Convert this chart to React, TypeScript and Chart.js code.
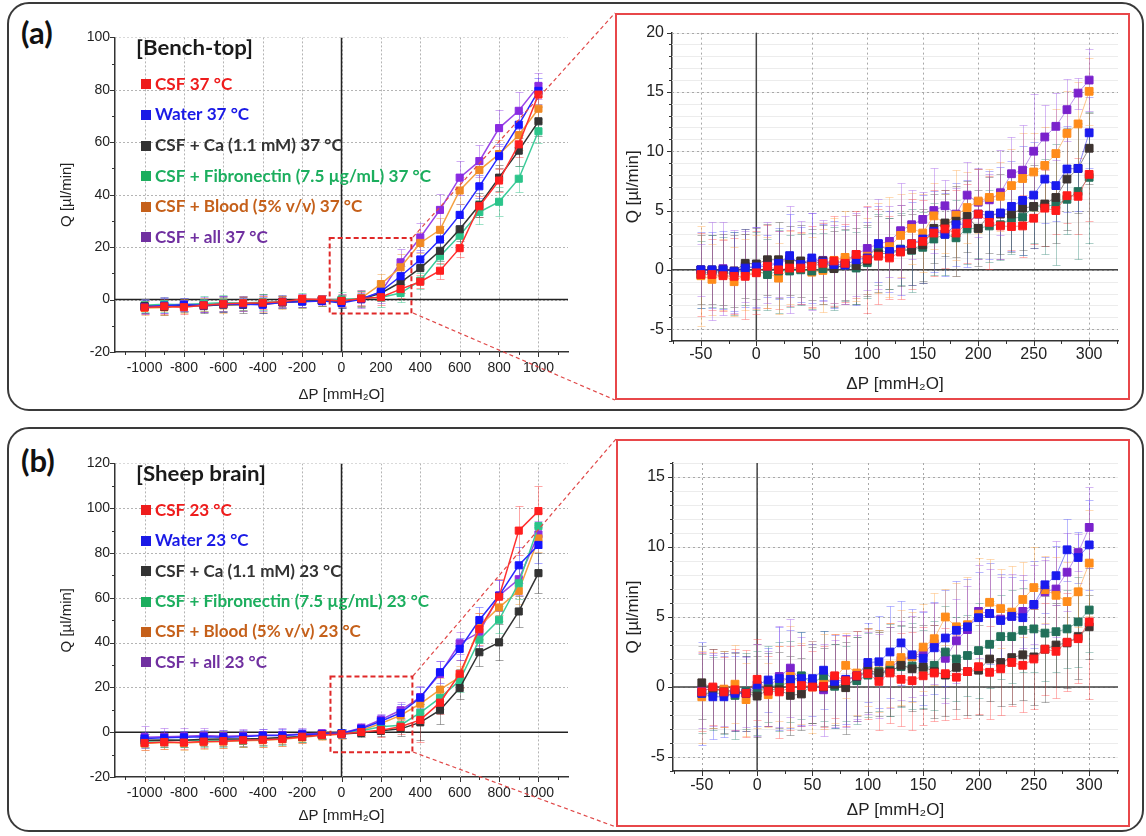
import React, { useEffect, useRef } from 'react';
import { Chart, registerables } from 'chart.js';
Chart.register(...registerables);

// ---------------- data ----------------
const xFull = [-1000, -900, -800, -700, -600, -500, -400, -300, -200, -100, 0, 100, 200, 300, 400, 500, 600, 700, 800, 900, 1000];
const xZoom = [-50, -40, -30, -20, -10, 0, 10, 20, 30, 40, 50, 60, 70, 80, 90, 100, 110, 120, 130, 140, 150, 160, 170, 180, 190, 200, 210, 220, 230, 240, 250, 260, 270, 280, 290, 300];

const fullXTicks = [-1000, -800, -600, -400, -200, 0, 200, 400, 600, 800, 1000];
const zoomXTicks = [-50, 0, 50, 100, 150, 200, 250, 300];
const benchFullYTicks = [-20, 0, 20, 40, 60, 80, 100];
const sheepFullYTicks = [-20, 0, 20, 40, 60, 80, 100, 120];
const benchZoomYTicks = [-5, 0, 5, 10, 15, 20];
const sheepZoomYTicks = [-5, 0, 5, 10, 15];

const benchNames = ['CSF 37 °C', 'Water 37 °C', 'CSF + Ca (1.1 mM) 37 °C', 'CSF + Fibronectin (7.5 µg/mL) 37 °C', 'CSF + Blood (5% v/v) 37 °C', 'CSF + all 37 °C'];
const sheepNames = ['CSF 23 °C', 'Water 23 °C', 'CSF + Ca (1.1 mM) 23 °C', 'CSF + Fibronectin (7.5 µg/mL) 23 °C', 'CSF + Blood (5% v/v) 23 °C', 'CSF + all 23 °C'];

// (a) bench-top, full range
const benchFullCSF = [-3.0, -2.6, -2.9, -2.2, -1.6, -1.4, -1.2, -0.8, 0.2, 0.0, -0.5, 0.4, 0.9, 4.0, 6.8, 11.0, 19.6, 35.6, 45.4, 59.2, 78.2];
const benchFullWater = [-2.8, -2.3, -2.0, -2.2, -1.8, -1.8, -2.0, -1.0, -0.8, -0.5, -1.3, 0.1, 3.0, 8.9, 15.3, 22.9, 32.3, 43.2, 54.7, 66.7, 79.6];
const benchFullCa = [-2.5, -2.8, -2.2, -2.5, -1.9, -2.0, -1.5, -1.0, -0.6, -0.4, -0.6, 0.2, 2.4, 6.6, 12.0, 18.6, 26.8, 36.1, 46.5, 56.8, 68.0];
const benchFullFib = [-2.2, -1.8, -2.0, -1.5, -1.2, -1.3, -1.0, -0.8, -0.4, -0.3, 0.0, 0.4, 0.8, 2.5, 7.2, 16.5, 24.4, 33.4, 37.3, 46.1, 64.2];
const benchFullBlood = [-3.2, -3.0, -2.5, -2.0, -2.2, -1.6, -1.8, -1.2, -0.6, -0.3, -0.5, 0.6, 5.9, 12.3, 21.6, 26.6, 41.6, 49.4, 55.5, 62.7, 72.8];
const benchFullAll = [-2.6, -2.2, -1.8, -1.9, -1.5, -1.6, -1.4, -0.9, -0.5, -0.2, -0.4, 0.3, 2.8, 14.2, 23.7, 34.2, 46.5, 52.8, 65.4, 72.0, 81.5];

const benchFullCSFErr = [2.5, 2.8, 2.5, 2.5, 2.8, 2.5, 2.5, 2.0, 2.0, 1.8, 2.0, 2.5, 3.0, 3.5, 2.5, 3.0, 3.5, 4.0, 4.5, 5.0, 4.5];
const benchFullWaterErr = [2.5, 3.0, 2.5, 2.5, 3.0, 2.5, 3.0, 2.0, 2.0, 1.8, 2.0, 2.5, 3.0, 4.0, 3.5, 4.0, 4.0, 4.5, 4.5, 5.0, 5.0];
const benchFullCaErr = [2.8, 3.2, 2.5, 2.5, 3.0, 3.0, 3.5, 2.2, 2.2, 2.0, 2.5, 3.0, 3.0, 4.0, 3.5, 4.0, 4.5, 4.5, 5.0, 6.0, 5.5];
const benchFullFibErr = [2.5, 2.8, 2.5, 2.8, 3.0, 2.8, 3.0, 2.5, 3.0, 2.0, 3.0, 3.0, 3.5, 3.5, 3.0, 3.0, 3.5, 4.5, 5.5, 5.0, 4.5];
const benchFullBloodErr = [2.5, 3.0, 2.8, 2.5, 2.8, 2.8, 3.0, 2.5, 2.5, 2.0, 2.5, 3.0, 4.0, 5.0, 4.0, 4.5, 5.0, 5.0, 5.5, 5.5, 5.0];
const benchFullAllErr = [2.8, 3.0, 2.5, 2.8, 2.8, 2.8, 3.0, 2.5, 2.5, 2.0, 2.5, 3.5, 4.0, 5.0, 5.5, 6.0, 6.5, 6.0, 7.0, 7.0, 5.0];

// (a) bench-top, zoom
const benchZoomCSF = [-0.4, -0.4, -0.5, -0.55, -0.55, -0.25, 0.3, 0.0, 0.15, 0.15, 0.3, 0.55, 0.75, 0.55, 1.3, 0.9, 1.15, 1.0, 1.5, 2.2, 2.4, 3.1, 3.45, 3.1, 3.9, 4.7, 4.0, 3.7, 3.65, 3.7, 4.35, 5.2, 5.0, 6.25, 6.2, 8.05];
const benchZoomWater = [0.0, 0.0, 0.0, -0.15, 0.15, 0.25, 0.3, 0.55, 1.2, 0.45, 1.0, 0.65, 0.45, 0.4, 0.85, 1.0, 2.2, 1.55, 1.7, 2.2, 2.6, 3.25, 3.0, 3.8, 3.9, 4.7, 4.6, 4.8, 5.35, 5.85, 6.3, 7.65, 7.1, 8.5, 8.55, 11.55];
const benchZoomCa = [0.0, 0.0, 0.0, -0.1, 0.55, 0.5, 0.85, 0.85, 0.8, 0.75, 0.45, 0.75, 0.1, 0.45, 0.35, 0.8, 1.35, 1.4, 1.6, 1.7, 2.1, 3.5, 3.95, 4.1, 4.5, 3.5, 4.6, 4.7, 4.7, 5.2, 5.35, 5.55, 6.1, 7.65, 8.55, 10.25];
const benchZoomFib = [-0.4, -0.1, -0.25, -0.3, 0.0, -0.1, -0.4, -0.1, -0.1, 0.0, -0.1, 0.1, 0.15, 0.4, 0.15, 0.6, 1.7, 1.4, 1.75, 1.65, 1.9, 2.6, 3.0, 2.7, 3.45, 3.5, 3.7, 3.8, 4.35, 4.45, 5.3, 5.35, 5.5, 5.95, 6.6, 7.8];
const benchZoomBlood = [-0.5, -0.8, -0.4, -1.0, -0.4, -0.2, -0.25, -0.7, 0.2, 0.1, -0.2, -0.05, 0.8, 1.05, 1.0, 1.15, 1.85, 1.95, 2.9, 3.5, 3.1, 4.55, 3.9, 4.6, 5.25, 5.8, 6.1, 6.2, 7.1, 7.7, 8.25, 8.8, 9.8, 11.5, 12.3, 15.05];
const benchZoomAll = [0.0, -0.1, 0.1, -0.1, 0.3, 0.2, 0.6, 0.5, 0.9, 0.6, 0.7, 0.8, 0.5, 0.8, 1.3, 1.8, 2.2, 2.4, 3.3, 3.8, 4.25, 5.0, 5.4, 4.7, 6.3, 5.7, 5.9, 6.5, 8.1, 8.4, 10.0, 11.2, 12.1, 13.5, 14.9, 16.0];

const benchZoomCSFErr = [3.5, 3.0, 3.0, 3.2, 3.6, 3.5, 3.5, 3.3, 3.2, 3.0, 3.4, 3.4, 3.8, 3.3, 3.7, 4.5, 4.0, 3.5, 4.0, 3.8, 3.5, 3.6, 3.3, 3.6, 3.3, 3.8, 3.9, 2.8, 2.0, 2.6, 2.2, 3.2, 2.0, 2.3, 3.2, 3.9];
const benchZoomWaterErr = [3.2, 3.2, 3.3, 3.3, 3.3, 3.4, 2.6, 3.0, 3.5, 3.2, 3.8, 3.2, 3.7, 3.3, 3.8, 3.0, 3.2, 3.4, 3.8, 3.5, 3.7, 3.4, 3.5, 3.5, 3.7, 3.8, 3.7, 3.9, 3.8, 4.6, 4.5, 3.7, 3.0, 3.6, 3.6, 3.0];
const benchZoomCaErr = [2.9, 2.9, 3.0, 3.0, 2.9, 3.0, 3.0, 3.2, 2.9, 3.0, 3.0, 3.0, 3.2, 3.0, 3.2, 3.0, 3.2, 3.0, 3.0, 3.0, 3.0, 2.9, 2.8, 3.0, 3.0, 3.2, 3.2, 3.4, 3.2, 3.5, 3.5, 3.5, 3.8, 4.3, 3.8, 3.0];
const benchZoomFibErr = [2.8, 3.0, 3.0, 3.5, 3.0, 3.3, 3.0, 3.5, 3.0, 3.0, 3.2, 3.0, 3.5, 3.0, 3.0, 3.0, 3.0, 3.0, 3.0, 3.5, 3.0, 3.0, 3.4, 3.2, 3.0, 2.5, 3.0, 3.0, 3.0, 3.2, 3.0, 4.0, 5.1, 2.9, 5.7, 5.5];
const benchZoomBloodErr = [4.2, 3.0, 3.0, 2.9, 3.0, 3.1, 3.0, 3.0, 3.1, 3.0, 3.0, 3.5, 3.6, 3.9, 3.6, 3.2, 3.8, 4.2, 3.5, 3.0, 3.3, 2.8, 2.5, 3.8, 3.0, 2.7, 2.4, 2.9, 3.1, 3.8, 3.3, 3.2, 3.8, 3.6, 3.5, 2.8];
const benchZoomAllErr = [2.2, 4.1, 3.9, 3.5, 3.0, 3.4, 3.4, 2.8, 4.5, 3.5, 4.1, 3.4, 3.3, 3.7, 3.5, 3.5, 3.8, 3.0, 4.0, 2.9, 2.3, 3.6, 2.2, 2.2, 2.8, 2.9, 2.2, 3.6, 3.1, 3.8, 4.8, 2.7, 2.8, 2.6, 1.3, 2.6];

// (b) sheep brain, full range
const sheepFullCSF = [-4.8, -4.4, -4.6, -4.2, -4.0, -3.6, -3.4, -3.0, -2.0, -1.2, -0.8, 0.1, 0.9, 2.4, 5.5, 13.2, 26.1, 46.0, 60.5, 90.0, 98.7];
const sheepFullWater = [-2.8, -2.5, -2.3, -2.0, -2.2, -2.0, -1.5, -1.5, -1.0, -0.8, -0.5, 1.5, 4.9, 8.6, 15.4, 26.8, 37.2, 50.1, 61.0, 74.5, 83.6];
const sheepFullCa = [-3.6, -3.5, -3.6, -3.2, -3.0, -3.0, -2.8, -2.4, -2.0, -1.0, -0.8, -0.3, 0.6, 1.5, 4.4, 9.8, 19.7, 35.7, 40.1, 53.9, 71.0];
const sheepFullFib = [-4.0, -3.8, -3.5, -3.8, -3.5, -3.8, -3.0, -2.6, -1.8, -1.0, -0.5, 0.6, 2.4, 3.1, 8.7, 15.3, 23.1, 41.3, 50.2, 66.5, 92.0];
const sheepFullBlood = [-5.0, -4.6, -4.8, -4.4, -4.2, -3.8, -3.6, -3.2, -2.4, -1.4, -0.9, 0.9, 3.9, 7.5, 12.7, 19.0, 24.6, 47.3, 55.7, 63.1, 86.5];
const sheepFullAll = [-2.2, -2.0, -1.8, -1.5, -1.8, -1.6, -1.4, -1.2, -0.8, -0.5, -0.5, 1.9, 5.6, 9.8, 15.7, 26.0, 39.7, 44.6, 61.0, 68.3, 88.3];

const sheepFullCSFErr = [3, 3, 3, 3, 3, 3, 3, 3, 3, 2, 2, 2, 3, 3, 10, 5, 6, 7, 8, 11, 11];
const sheepFullWaterErr = [3, 3, 3, 3, 3, 3, 3, 3, 2.5, 2, 2, 2, 3, 4, 5, 5, 5, 6, 7, 8, 8];
const sheepFullCaErr = [3, 3, 3, 3, 3, 3, 3, 3, 2.5, 2, 2, 2, 2.5, 3, 8, 6, 5, 6, 8, 7, 9];
const sheepFullFibErr = [3, 3, 3, 3, 3, 3, 3, 3, 2.5, 2, 2, 2, 2.5, 3, 4, 5, 5, 6, 6, 7, 6];
const sheepFullBloodErr = [3, 3, 3, 3, 3, 3, 3, 3, 2.5, 2, 2, 2, 3, 4, 4, 5, 5, 6, 6, 6, 6];
const sheepFullAllErr = [5, 4, 3.5, 3.5, 3, 3, 3, 3, 2.5, 2, 2, 2, 2.5, 3.5, 5, 6, 5, 6, 7, 7, 6];

// (b) sheep brain, zoom
const sheepZoomCSF = [-0.35, 0.0, -0.35, -0.2, -0.45, 0.55, -0.3, -0.35, -0.05, 0.1, 0.0, 0.05, 0.8, 0.45, 0.8, 0.95, 0.4, 1.0, 0.55, 0.45, 0.8, 1.0, 0.95, 0.7, 1.1, 1.45, 1.05, 1.3, 1.75, 1.55, 2.0, 2.7, 2.55, 3.2, 3.45, 4.65];
const sheepZoomWater = [-0.45, -0.7, -0.7, -0.45, -0.45, 0.15, 0.5, 0.6, 0.55, 0.6, 0.6, 1.2, 0.4, 0.55, 0.8, 1.75, 1.8, 2.5, 3.15, 2.3, 2.05, 2.8, 3.5, 4.05, 4.3, 4.95, 5.25, 4.75, 5.05, 4.95, 5.9, 7.3, 7.95, 9.8, 9.25, 10.15];
const sheepZoomCa = [0.3, -0.1, -0.35, -0.35, -0.45, -0.65, -0.2, -0.2, -0.6, -0.5, 0.15, 0.0, 0.2, -0.05, 0.75, 1.2, 1.0, 1.1, 1.55, 1.3, 1.45, 1.1, 0.85, 1.4, 1.1, 1.2, 2.0, 1.75, 2.1, 2.3, 2.15, 2.7, 3.0, 3.15, 3.6, 4.3];
const sheepZoomFib = [-0.45, -0.45, -0.45, -0.6, -0.3, -0.45, 0.2, 0.05, 0.4, 0.8, 0.25, 0.8, 0.05, 0.25, 0.45, 0.85, 1.1, 1.2, 1.45, 1.5, 1.3, 1.55, 2.5, 2.0, 2.25, 2.6, 3.05, 3.6, 3.6, 4.05, 4.15, 3.85, 3.95, 4.15, 4.65, 5.5];
const sheepZoomBlood = [-0.7, -0.2, -0.15, 0.2, -0.9, 0.05, -0.55, 0.25, 0.75, 0.25, 0.0, 0.4, 0.6, 1.55, 1.0, 1.45, 1.15, 1.55, 2.1, 2.15, 2.85, 3.45, 5.0, 4.3, 4.45, 5.2, 6.05, 5.6, 5.35, 6.25, 7.1, 6.95, 6.55, 6.1, 6.8, 8.85];
const sheepZoomAll = [-0.2, -0.15, -0.2, -0.3, -0.35, -0.2, -0.1, 0.75, 1.35, 0.4, 0.2, -0.2, 0.25, 0.45, 0.75, 1.0, 0.8, 1.4, 1.9, 2.2, 2.45, 3.1, 2.05, 3.3, 4.1, 5.4, 5.25, 4.85, 5.05, 5.4, 5.9, 6.8, 7.0, 8.2, 9.6, 11.4];

const sheepZoomCSFErr = [2.8, 2.7, 2.5, 2.9, 3.1, 2.9, 2.5, 3.3, 3.0, 2.9, 2.6, 2.9, 3.0, 3.2, 3.2, 3.2, 3.5, 3.6, 3.3, 3.5, 3.5, 3.4, 3.3, 3.0, 3.3, 3.4, 3.3, 3.3, 3.1, 3.3, 3.6, 3.3, 3.3, 3.5, 3.2, 5.5];
const sheepZoomWaterErr = [3.7, 3.0, 2.9, 2.7, 2.7, 2.9, 2.3, 3.7, 3.5, 3.3, 2.7, 2.8, 3.3, 3.2, 3.2, 2.8, 3.3, 3.3, 3.0, 3.3, 3.3, 3.3, 3.4, 3.5, 3.4, 3.3, 3.6, 3.3, 2.8, 2.7, 3.1, 2.0, 2.1, 2.2, 1.8, 3.2];
const sheepZoomCaErr = [2.6, 2.8, 2.9, 2.8, 2.7, 2.9, 2.6, 2.7, 2.8, 2.6, 2.7, 2.8, 2.9, 3.3, 2.8, 3.0, 3.1, 3.2, 2.9, 3.0, 3.0, 3.3, 2.9, 3.0, 3.1, 3.2, 3.0, 3.1, 3.3, 3.2, 3.4, 3.8, 3.0, 3.2, 3.0, 2.3];
const sheepZoomFibErr = [2.8, 2.6, 2.9, 3.1, 2.7, 3.0, 2.7, 3.2, 2.9, 3.1, 2.8, 3.2, 3.0, 2.7, 3.1, 3.0, 2.8, 3.3, 2.9, 3.1, 2.8, 3.2, 3.3, 3.0, 2.9, 3.4, 3.1, 3.0, 3.3, 3.0, 3.1, 3.4, 2.9, 2.8, 3.2, 3.0];
const sheepZoomBloodErr = [3.3, 2.7, 2.7, 2.8, 2.6, 3.0, 2.3, 2.7, 3.6, 2.9, 3.3, 3.4, 3.2, 2.3, 3.0, 2.8, 2.9, 3.0, 3.4, 3.2, 3.1, 3.3, 2.0, 3.1, 3.4, 4.0, 3.1, 2.8, 3.3, 2.7, 2.9, 2.4, 2.7, 2.8, 2.5, 3.8];
const sheepZoomAllErr = [2.7, 2.6, 2.6, 2.8, 2.5, 3.3, 2.7, 3.6, 3.5, 3.2, 2.9, 3.3, 3.1, 3.3, 3.0, 2.9, 3.0, 2.9, 2.8, 2.9, 3.0, 2.9, 3.2, 3.0, 3.1, 3.3, 3.2, 3.0, 3.0, 2.6, 2.8, 2.3, 3.4, 2.8, 1.3, 2.9];

// zoomed regions marked in the full-range plots (data units)
const benchZoomRegionX = [-60, 355];
const benchZoomRegionY = [-5.3, 23.5];
const sheepZoomRegionX = [-56, 360];
const sheepZoomRegionY = [-8.9, 24.9];

// ---------------- styles ----------------
const fullMarkColors = ['#ff1f1f', '#1414ff', '#333333', '#2bc48a', '#f08a24', '#8a2be2'];
const fullLineColors = ['#ff3030', '#2a2aff', '#333333', '#3ccc9a', '#f5a040', '#9a45e8'];
const fullErrColors = ['rgba(255,60,60,0.45)', 'rgba(60,60,255,0.45)', 'rgba(60,60,60,0.45)', 'rgba(40,190,130,0.45)', 'rgba(240,150,50,0.45)', 'rgba(150,70,230,0.45)'];
const zoomMarkColors = ['#ff1a1a', '#1a1aee', '#3d3330', '#22705a', '#ff8c1a', '#7a22cc'];
const zoomLineColors = ['rgba(255,40,40,0.55)', 'rgba(40,40,240,0.55)', 'rgba(60,50,50,0.55)', 'rgba(40,130,110,0.55)', 'rgba(255,150,40,0.55)', 'rgba(140,60,220,0.55)'];
const zoomErrColors = ['rgba(255,60,60,0.38)', 'rgba(70,70,255,0.38)', 'rgba(60,60,60,0.38)', 'rgba(40,130,110,0.38)', 'rgba(255,160,60,0.38)', 'rgba(150,70,230,0.38)'];
const legendColors = ['#ee1c1c', '#1a1ae6', '#333333', '#1cae5e', '#c5601a', '#7030a0'];

const TICK_FAMILY = "'Liberation Sans', Arial, sans-serif";

function makeDecor(s: any) {
  return {
    id: 'decor',
    beforeDatasetsDraw(chart: any) {
      const { ctx, chartArea: ca } = chart;
      const xs = chart.scales.x, ys = chart.scales.y;
      const px = (v: number) => Math.round(xs.getPixelForValue(v)) + 0.5;
      const py = (v: number) => Math.round(ys.getPixelForValue(v)) + 0.5;
      ctx.save();
      ctx.beginPath();
      ctx.rect(ca.left, ca.top, ca.right - ca.left, ca.bottom - ca.top);
      ctx.clip();
      ctx.lineWidth = 1;
      if (s.minorGridY) {
        ctx.strokeStyle = s.minorGridColor;
        ctx.setLineDash([]);
        ctx.beginPath();
        for (let v = Math.ceil(ys.min / s.minorGridY) * s.minorGridY; v <= ys.max + 1e-9; v += s.minorGridY) {
          const y = py(v);
          ctx.moveTo(ca.left, y); ctx.lineTo(ca.right, y);
        }
        ctx.stroke();
      }
      ctx.strokeStyle = s.gridColor;
      ctx.setLineDash(s.gridDash);
      ctx.beginPath();
      xs.ticks.forEach((t: any) => { const x = px(t.value); ctx.moveTo(x, ca.top); ctx.lineTo(x, ca.bottom); });
      ys.ticks.forEach((t: any) => { const y = py(t.value); ctx.moveTo(ca.left, y); ctx.lineTo(ca.right, y); });
      ctx.stroke();
      ctx.setLineDash([]);
      ctx.strokeStyle = s.zeroColor;
      ctx.lineWidth = s.zeroWidth;
      ctx.beginPath();
      const x0 = xs.getPixelForValue(0), y0 = ys.getPixelForValue(0);
      ctx.moveTo(x0, ca.top); ctx.lineTo(x0, ca.bottom);
      ctx.moveTo(ca.left, y0); ctx.lineTo(ca.right, y0);
      ctx.stroke();
      // error bars
      ctx.lineWidth = 1;
      chart.data.datasets.forEach((ds: any) => {
        ctx.strokeStyle = ds.errColor;
        ctx.beginPath();
        ds.data.forEach((p: any, i: number) => {
          const e = ds.errors[i];
          const x = px(p.x);
          const yt = Math.round(ys.getPixelForValue(p.y + e)) + 0.5;
          const yb = Math.round(ys.getPixelForValue(p.y - e)) + 0.5;
          ctx.moveTo(x, yt); ctx.lineTo(x, yb);
          ctx.moveTo(x - s.cap, yt); ctx.lineTo(x + s.cap, yt);
          ctx.moveTo(x - s.cap, yb); ctx.lineTo(x + s.cap, yb);
        });
        ctx.stroke();
      });
      ctx.restore();
    },
    afterDatasetsDraw(chart: any) {
      const { ctx, chartArea: ca } = chart;
      const xs = chart.scales.x, ys = chart.scales.y;
      if (s.zoomRegion) {
        const [xa, xb] = s.zoomRegion.x, [ya, yb] = s.zoomRegion.y;
        const l = xs.getPixelForValue(xa), r = xs.getPixelForValue(xb);
        const t = ys.getPixelForValue(yb), b = ys.getPixelForValue(ya);
        ctx.save();
        ctx.strokeStyle = '#e02828';
        ctx.lineWidth = 2;
        ctx.setLineDash([5, 3]);
        ctx.strokeRect(l, t, r - l, b - t);
        ctx.restore();
      }
      if (s.legend) {
        const L = s.legend;
        ctx.save();
        ctx.textBaseline = 'middle';
        ctx.textAlign = 'left';
        ctx.font = L.titleFont;
        const tw = ctx.measureText(L.title).width;
        const tsx = L.titleTargetW / tw;
        ctx.fillStyle = '#1a1a1a';
        ctx.save();
        ctx.translate(ca.left + L.titleDx, ca.top + L.titleDy);
        ctx.scale(tsx, 1);
        ctx.fillText(L.title, 0, 0);
        ctx.restore();
        ctx.font = L.itemFont;
        const iw = ctx.measureText(L.names[L.refIndex]).width;
        const isx = L.itemTargetW / iw;
        L.names.forEach((txt: string, i: number) => {
          const cy = ca.top + L.itemDy + i * L.step;
          ctx.fillStyle = L.colors[i];
          ctx.fillRect(ca.left + L.markDx, Math.round(cy - L.mark / 2), L.mark, L.mark);
          ctx.save();
          ctx.translate(ca.left + L.textDx, cy);
          ctx.scale(isx, 1);
          ctx.fillText(txt, 0, 0);
          ctx.restore();
        });
        ctx.restore();
      }
    },
    afterDraw(chart: any) {
      const { ctx, chartArea: ca } = chart;
      const xs = chart.scales.x, ys = chart.scales.y;
      ctx.save();
      ctx.strokeStyle = '#333';
      ctx.lineWidth = 1;
      ctx.beginPath();
      const xMajors = xs.ticks.map((t: any) => t.value);
      const yMajors = ys.ticks.map((t: any) => t.value);
      for (let v = Math.ceil(xs.min / s.minorX) * s.minorX; v <= xs.max + 1e-9; v += s.minorX) {
        const major = xMajors.some((m: number) => Math.abs(m - v) < 1e-6);
        const x = Math.round(xs.getPixelForValue(v)) + 0.5;
        ctx.moveTo(x, ca.bottom); ctx.lineTo(x, ca.bottom + (major ? s.majorLen : s.minorLen));
      }
      for (let v = Math.ceil(ys.min / s.minorY) * s.minorY; v <= ys.max + 1e-9; v += s.minorY) {
        const major = yMajors.some((m: number) => Math.abs(m - v) < 1e-6);
        const y = Math.round(ys.getPixelForValue(v)) + 0.5;
        ctx.moveTo(ca.left, y); ctx.lineTo(ca.left - (major ? s.majorLen : s.minorLen), y);
      }
      ctx.stroke();
      ctx.restore();
    },
  };
}

function buildConfig(s: any) {
  const datasets = s.series.map((ys: number[], k: number) => ({
    label: s.names[k],
    data: s.x.map((xv: number, i: number) => ({ x: xv, y: ys[i] })),
    errors: s.errs[k],
    errColor: s.errColors[k],
    borderColor: s.lineColors[k],
    backgroundColor: s.markColors[k],
    pointBackgroundColor: s.markColors[k],
    pointBorderColor: s.markColors[k],
    pointBorderWidth: 1,
    pointStyle: 'rect',
    pointRadius: s.pointRadius,
    borderWidth: s.lineWidth,
    tension: 0,
    fill: false,
  }));
  const yAxisW = s.area.L - s.box.left;
  const xAxisH = s.box.top + s.box.height - s.area.B;
  const tickFont = { family: TICK_FAMILY, size: s.tickFont };
  const titleFont = { family: TICK_FAMILY, size: s.titleFont };
  return {
    type: 'line',
    data: { datasets },
    options: {
      animation: false,
      responsive: false,
      devicePixelRatio: 1,
      events: [],
      layout: { padding: { top: s.area.T - s.box.top, right: s.box.left + s.box.width - s.area.R, left: 0, bottom: 0 } },
      plugins: { legend: { display: false }, tooltip: { enabled: false }, title: { display: false } },
      scales: {
        x: {
          type: 'linear',
          min: s.xMin,
          max: s.xMax,
          afterBuildTicks: (sc: any) => { sc.ticks = s.xTicks.map((v: number) => ({ value: v })); },
          afterFit: (sc: any) => { sc.height = xAxisH; },
          grid: { display: false, drawTicks: false },
          border: { display: true, color: '#333', width: 1.5 },
          ticks: { font: tickFont, color: '#222', padding: s.xTickPad, autoSkip: false, maxRotation: 0, callback: (v: any) => String(v) },
          title: { display: true, text: 'ΔP [mmH₂O]', font: titleFont, color: '#222', padding: { top: 0, bottom: s.xTitlePad } },
        },
        y: {
          type: 'linear',
          min: s.yMin,
          max: s.yMax,
          afterBuildTicks: (sc: any) => { sc.ticks = s.yTicks.map((v: number) => ({ value: v })); },
          afterFit: (sc: any) => { sc.width = yAxisW; },
          grid: { display: false, drawTicks: false },
          border: { display: true, color: '#333', width: 1.5 },
          ticks: { font: tickFont, color: '#222', padding: s.yTickPad, autoSkip: false, callback: (v: any) => String(v) },
          title: { display: true, text: 'Q [µl/min]', font: titleFont, color: '#222', padding: { top: s.yTitlePad, bottom: 0 } },
        },
      },
    },
    plugins: [makeDecor(s)],
  };
}

const fullCommon = {
  x: xFull, xMin: -1150, xMax: 1150, xTicks: fullXTicks,
  markColors: fullMarkColors, lineColors: fullLineColors, errColors: fullErrColors,
  pointRadius: 5, lineWidth: 1.5, cap: 4,
  tickFont: 14, titleFont: 15, xTickPad: 8, yTickPad: 5, yTitlePad: 18,
  minorX: 100, minorY: 10, majorLen: 5, minorLen: 3,
  gridColor: '#b4b4b4', gridDash: [2, 2], zeroColor: '#222', zeroWidth: 1.5,
};
const zoomCommon = {
  x: xZoom, xMin: -76, xMax: 326, xTicks: zoomXTicks,
  markColors: zoomMarkColors, lineColors: zoomLineColors, errColors: zoomErrColors,
  pointRadius: 5.5, lineWidth: 1, cap: 4,
  tickFont: 16, titleFont: 17, yTickPad: 8,
  minorX: 25, minorY: 1, majorLen: 5, minorLen: 3,
  minorGridY: 1, minorGridColor: '#ececec',
  gridColor: '#a8a8a8', gridDash: [2, 3], zeroColor: '#444', zeroWidth: 1.5,
};

const legendCommon = {
  titleFont: 'bold 20px Lato', itemFont: 'bold 17px Lato', refIndex: 3,
  titleDx: 21, titleDy: 11, markDx: 26, mark: 10, textDx: 40, itemDy: 47, colors: legendColors,
};

const benchFullSpec = {
  ...fullCommon,
  names: benchNames,
  series: [benchFullCSF, benchFullWater, benchFullCa, benchFullFib, benchFullBlood, benchFullAll],
  errs: [benchFullCSFErr, benchFullWaterErr, benchFullCaErr, benchFullFibErr, benchFullBloodErr, benchFullAllErr],
  yMin: -20, yMax: 100, yTicks: benchFullYTicks,
  box: { left: 40, top: 24, width: 560, height: 380 },
  area: { L: 115, T: 36, R: 568, B: 352 },
  xTitlePad: 0,
  zoomRegion: { x: benchZoomRegionX, y: benchZoomRegionY },
  legend: { ...legendCommon, title: '[Bench-top]', names: benchNames, step: 30.6, titleTargetW: 117, itemTargetW: 276 },
};
const sheepFullSpec = {
  ...fullCommon,
  names: sheepNames,
  series: [sheepFullCSF, sheepFullWater, sheepFullCa, sheepFullFib, sheepFullBlood, sheepFullAll],
  errs: [sheepFullCSFErr, sheepFullWaterErr, sheepFullCaErr, sheepFullFibErr, sheepFullBloodErr, sheepFullAllErr],
  yMin: -20, yMax: 120, yTicks: sheepFullYTicks,
  box: { left: 40, top: 450, width: 560, height: 380 },
  area: { L: 115, T: 462, R: 568, B: 777 },
  xTitlePad: 5,
  zoomRegion: { x: sheepZoomRegionX, y: sheepZoomRegionY },
  legend: { ...legendCommon, title: '[Sheep brain]', names: sheepNames, step: 30.4, titleTargetW: 130, itemTargetW: 274 },
};
const benchZoomSpec = {
  ...zoomCommon,
  names: benchNames,
  series: [benchZoomCSF, benchZoomWater, benchZoomCa, benchZoomFib, benchZoomBlood, benchZoomAll],
  errs: [benchZoomCSFErr, benchZoomWaterErr, benchZoomCaErr, benchZoomFibErr, benchZoomBloodErr, benchZoomAllErr],
  yMin: -6, yMax: 20, yTicks: benchZoomYTicks,
  box: { left: 617, top: 15, width: 511, height: 383 },
  area: { L: 672, T: 30, R: 1118, B: 341 },
  xTickPad: 4, yTitlePad: 5.8, xTitlePad: 3.8,
};
const sheepZoomSpec = {
  ...zoomCommon,
  names: sheepNames,
  series: [sheepZoomCSF, sheepZoomWater, sheepZoomCa, sheepZoomFib, sheepZoomBlood, sheepZoomAll],
  errs: [sheepZoomCSFErr, sheepZoomWaterErr, sheepZoomCaErr, sheepZoomFibErr, sheepZoomBloodErr, sheepZoomAllErr],
  yMin: -6, yMax: 16, yTicks: sheepZoomYTicks,
  box: { left: 618, top: 441, width: 510, height: 384 },
  area: { L: 673, T: 463, R: 1118, B: 771 },
  xTickPad: 5, yTitlePad: 4.8, xTitlePad: 4.8,
};

function PanelChart({ s }: { s: any }) {
  const ref = useRef<HTMLCanvasElement | null>(null);
  useEffect(() => {
    const chart = new Chart(ref.current as any, buildConfig(s) as any);
    return () => chart.destroy();
  }, [s]);
  return (
    <canvas
      ref={ref}
      width={s.box.width}
      height={s.box.height}
      style={{ position: 'absolute', left: s.box.left, top: s.box.top, width: s.box.width, height: s.box.height }}
    />
  );
}

export default function App() {
  const outer = { position: 'absolute' as const, left: 7, width: 1137, border: '2px solid #3a3a3a', borderRadius: 22, boxSizing: 'border-box' as const };
  const redBox = { position: 'absolute' as const, border: '2px solid #e8474a', background: '#fff', boxSizing: 'border-box' as const };
  const panelLabel = { position: 'absolute' as const, left: 21, fontFamily: 'Lato, sans-serif', fontWeight: 700, fontSize: 31, lineHeight: '40px', color: '#111' };
  return (
    <div style={{ position: 'absolute', left: 0, top: 0, width: 1146, height: 836, background: '#fff', overflow: 'hidden' }}>
      <div style={{ ...outer, top: 2, height: 409 }} />
      <div style={{ ...outer, top: 427, height: 405 }} />
      <div style={{ ...panelLabel, top: 12 }}>(a)</div>
      <div style={{ ...panelLabel, top: 440 }}>(b)</div>
      <div style={{ ...redBox, left: 615, top: 13, width: 515, height: 387 }} />
      <div style={{ ...redBox, left: 616, top: 439, width: 514, height: 388 }} />
      <PanelChart s={benchFullSpec} />
      <PanelChart s={benchZoomSpec} />
      <PanelChart s={sheepFullSpec} />
      <PanelChart s={sheepZoomSpec} />
      <svg width={1146} height={836} style={{ position: 'absolute', left: 0, top: 0, pointerEvents: 'none' }}>
        <g stroke="#e04848" strokeWidth={1.2} strokeDasharray="4 3" fill="none">
          <line x1={413} y1={237} x2={615} y2={13} />
          <line x1={413} y1={313} x2={615} y2={400} />
          <line x1={413} y1={676} x2={616} y2={439} />
          <line x1={413} y1={752} x2={616} y2={827} />
        </g>
      </svg>
    </div>
  );
}
